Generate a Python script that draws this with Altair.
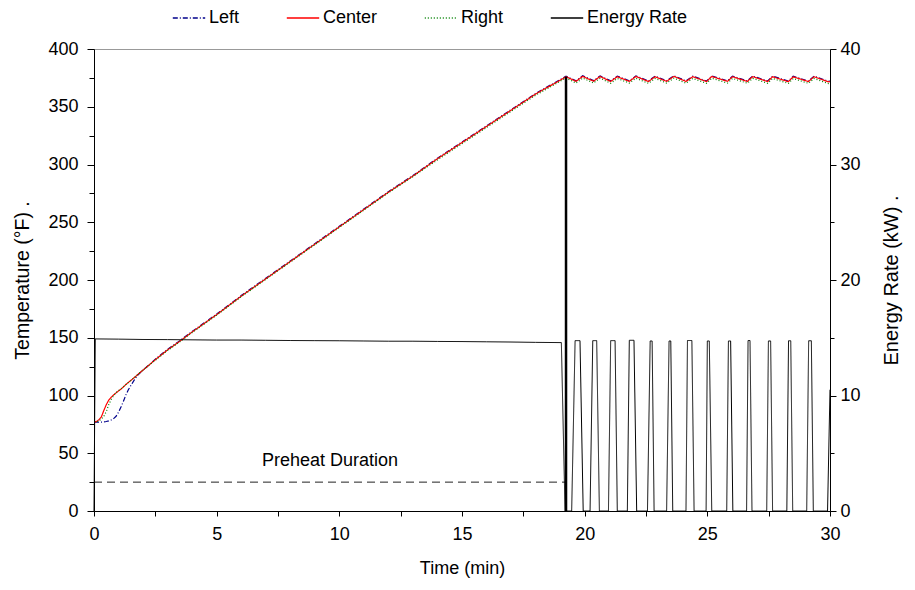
import altair as alt
import pandas as pd

# ---------------- data ----------------
temp_time = [0.0, 0.1, 0.2, 0.3, 0.4, 0.5, 0.6, 0.7, 0.8, 0.9, 1.0, 1.1, 1.2, 1.3, 1.4,
             1.5, 1.6, 1.7, 1.8, 1.9, 2.0,
             2.5, 3.0, 3.5, 4, 5, 6, 7, 8, 9, 10, 11, 12, 13, 14, 15, 16, 17, 18, 19, 19.24,
             19.65, 19.92, 20.36, 20.63, 21.06, 21.33, 21.82, 22.09, 22.6, 22.87, 23.34, 23.64,
             24.13, 24.41, 24.97, 25.18, 25.82, 26.03, 26.63, 26.85, 27.46, 27.66, 28.3, 28.5,
             29.12, 29.35, 29.93, 30.0]

left_temp = [77, 77, 77, 77, 77.2, 77.5, 78, 78.8, 80, 82, 85.5, 90, 95, 100.5, 105,
             108.5, 112, 115.3, 118, 120, 122,
             131.5, 140, 147.5, 155.5, 170.5, 186.5, 201.5, 216.5, 231.5, 246.5, 261.5, 276.5,
             290.5, 305.5, 319.5, 333.5, 347.5, 361.5, 373.5, 376.5,
             372.5, 376.8, 372.6, 376.7, 372.4, 376.5, 372.5, 376.7, 372.3, 376.5, 372.5, 376.8,
             372.4, 376.5, 372.3, 376.7, 372.5, 376.5, 372.4, 376.6, 372.3, 376.5, 372.2, 376.4,
             372.3, 376.5, 372.1, 372.3]

center_temp = [77, 77.5, 79, 81.5, 87, 92, 96, 98.5, 100.5, 102.3, 104, 105.5, 107.5, 109.5, 111.3,
               113, 114.8, 116.5, 118.5, 120.3, 122,
               131, 139.5, 147, 155, 170, 186, 201, 216, 231, 246, 261, 276,
               290, 305, 319, 333, 347, 361, 373, 376,
               372.0, 376.3, 372.1, 376.2, 371.9, 376.0, 372.0, 376.2, 371.8, 376.0, 372.0, 376.3,
               371.9, 376.0, 371.8, 376.2, 372.0, 376.0, 371.9, 376.1, 371.8, 376.0, 371.7, 375.9,
               371.8, 376.0, 371.6, 371.8]

right_temp = [77, 77.3, 78, 79.5, 82, 86, 92, 96.5, 100, 102.5, 104.3, 105.8, 107.6, 109.5, 111.3,
              113, 114.8, 116.5, 118.5, 120.3, 122,
              130.5, 139, 146.5, 154.5, 169.5, 185.5, 200.5, 215.5, 230.5, 245.5, 260.5, 275.5,
              289.5, 304, 318, 332, 346, 360, 372, 375,
              370.5, 374.8, 370.6, 374.7, 370.4, 374.5, 370.5, 374.7, 370.3, 374.5, 370.5, 374.8,
              370.4, 374.5, 370.3, 374.7, 370.5, 374.5, 370.4, 374.6, 370.3, 374.5, 370.2, 374.4,
              370.3, 374.5, 370.1, 370.3]

energy_time = [0.0, 0.05, 1, 2, 3, 4, 5, 6, 7, 8, 9, 10, 11, 12, 13, 14, 15, 16, 17, 18, 19.05, 19.2,
               19.47, 19.61, 19.81, 19.94,
               20.22, 20.33, 20.49, 20.60,
               20.97, 21.06, 21.24, 21.33,
               21.74, 21.82, 22.01, 22.12,
               22.56, 22.67, 22.75, 22.83,
               23.34, 23.44, 23.51, 23.59,
               24.13, 24.19, 24.37, 24.46,
               24.95, 25.00, 25.08, 25.18,
               25.79, 25.86, 25.95, 26.04,
               26.60, 26.66, 26.74, 26.82,
               27.42, 27.49, 27.58, 27.66,
               28.24, 28.31, 28.40, 28.48,
               29.05, 29.13, 29.24, 29.32,
               29.90, 30.0]

energy_kw = [0, 14.9, 14.88, 14.85, 14.84, 14.82, 14.8, 14.8, 14.78, 14.76, 14.75, 14.74, 14.72,
             14.7, 14.7, 14.68, 14.67, 14.65, 14.63, 14.6, 14.58, 0,
             0, 14.75, 14.75, 0,
             0, 14.75, 14.75, 0,
             0, 14.75, 14.75, 0,
             0, 14.78, 14.78, 0,
             0, 14.72, 14.72, 0,
             0, 14.72, 14.72, 0,
             0, 14.76, 14.76, 0,
             0, 14.72, 14.72, 0,
             0, 14.72, 14.72, 0,
             0, 14.76, 14.76, 0,
             0, 14.72, 14.72, 0,
             0, 14.74, 14.74, 0,
             0, 14.74, 14.74, 0,
             0, 10.5]

series_names = ["Left", "Center", "Right", "Energy Rate"]
series_colors = ["#00008B", "#FF0000", "#008000", "#000000"]
series_dashes = [[5, 2, 1, 2], [1, 0], [1, 2], [1, 0]]

preheat_end = [19.24]
preheat_peak = [376]
preheat_level = [25]
label_time = [9.62]
label_temp = [43]
label_text = ["Preheat Duration"]

# ---------------- tables ----------------
temp_df = pd.DataFrame({
    "time": temp_time * 3,
    "temp": left_temp + center_temp + right_temp,
    "series": ["Left"] * len(temp_time) + ["Center"] * len(temp_time) + ["Right"] * len(temp_time),
})
energy_df = pd.DataFrame({"time": energy_time, "kw": energy_kw, "series": ["Energy Rate"] * len(energy_time)})
vline_df = pd.DataFrame({"time": preheat_end, "y0": [0], "y1": preheat_peak})
dash_df = pd.DataFrame({"t0": [0.0], "t1": preheat_end, "level": preheat_level})
label_df = pd.DataFrame({"time": label_time, "temp": label_temp, "text": label_text})

FONT = "Liberation Sans"
FS = 18

x_axis = alt.Axis(values=[i * 2.5 for i in range(13)],
                  labelExpr="datum.value % 5 === 0 ? datum.label : ''",
                  title="Time (min)", tickSize=5, labelPadding=9, titlePadding=16,
                  labelFlush=False, grid=False)
x_scale = alt.Scale(domain=[0, 30], nice=False, zero=False)

left_axis = alt.Axis(values=[i * 25 for i in range(17)],
                     labelExpr="datum.value % 50 === 0 ? datum.label : ''",
                     title="Temperature (°F)  .", titleFontSize=19.5,
                     tickSize={"condition": {"test": "datum.value % 50 === 0", "value": 7}, "value": 5},
                     labelPadding=9, titlePadding=15, labelFlush=False, grid=False)
left_scale = alt.Scale(domain=[0, 400], nice=False)

right_axis = alt.Axis(orient="right", values=[i * 5 for i in range(9)],
                      labelExpr="datum.value % 10 === 0 ? datum.label : ''",
                      title="Energy Rate (kW)  .", titleAngle=270, titleFontSize=20,
                      tickSize={"condition": {"test": "datum.value % 10 === 0", "value": 6}, "value": 4},
                      labelPadding=4, titlePadding=41, labelFlush=False, grid=False)
right_scale = alt.Scale(domain=[0, 40], nice=False)

legend = alt.Legend(title=None, orient="none", direction="horizontal", legendX=78, legendY=-48,
                    symbolSize=1050, symbolStrokeWidth=1.3, labelFontSize=FS, labelFont=FONT,
                    labelColor="black", columnPadding=44, labelOffset=3, padding=0)

color_enc = alt.Color("series:N", scale=alt.Scale(domain=series_names, range=series_colors), legend=legend)
dash_enc = alt.StrokeDash("series:N", scale=alt.Scale(domain=series_names, range=series_dashes), legend=legend)


def temp_line(name):
    return alt.Chart(temp_df).transform_filter(alt.datum.series == name).mark_line(
        strokeWidth=1.2, clip=True
    ).encode(
        x=alt.X("time:Q", scale=x_scale, axis=x_axis),
        y=alt.Y("temp:Q", scale=left_scale, axis=left_axis),
        color=color_enc,
        strokeDash=dash_enc,
    )


vline = alt.Chart(vline_df).mark_rule(color="black", strokeWidth=2.5).encode(
    x=alt.X("time:Q", scale=x_scale, axis=x_axis),
    y=alt.Y("y0:Q", scale=left_scale, axis=left_axis),
    y2="y1:Q",
)

dash_line = alt.Chart(dash_df).mark_rule(color="#222222", strokeWidth=1, strokeDash=[8, 5]).encode(
    x=alt.X("t0:Q", scale=x_scale, axis=x_axis),
    x2="t1:Q",
    y=alt.Y("level:Q", scale=left_scale, axis=left_axis),
)

label = alt.Chart(label_df).mark_text(fontSize=FS, font=FONT, color="black").encode(
    x=alt.X("time:Q", scale=x_scale, axis=x_axis),
    y=alt.Y("temp:Q", scale=left_scale, axis=left_axis),
    text="text:N",
)

left_group = alt.layer(dash_line, label, temp_line("Left"), temp_line("Center"), temp_line("Right"), vline)

energy = alt.Chart(energy_df).mark_line(strokeWidth=1, color="black").encode(
    x=alt.X("time:Q", scale=x_scale, axis=x_axis),
    y=alt.Y("kw:Q", scale=right_scale, axis=right_axis),
    color=color_enc,
    strokeDash=dash_enc,
)

chart = alt.layer(left_group, energy).resolve_scale(y="independent").properties(
    width=736, height=462,
    autosize=alt.AutoSizeParams(type="none"),
    padding={"left": 86, "top": 41, "right": 77, "bottom": 70},
).configure_view(stroke="#999999", strokeWidth=1).configure_axis(
    labelFont=FONT, titleFont=FONT, labelFontSize=FS, titleFontSize=FS,
    titleFontWeight="normal", labelColor="black", titleColor="black",
    domainColor="black", tickColor="black", domainWidth=1, tickWidth=1,
)

chart.save("out.html", embed_options={"renderer": "svg", "actions": False})
